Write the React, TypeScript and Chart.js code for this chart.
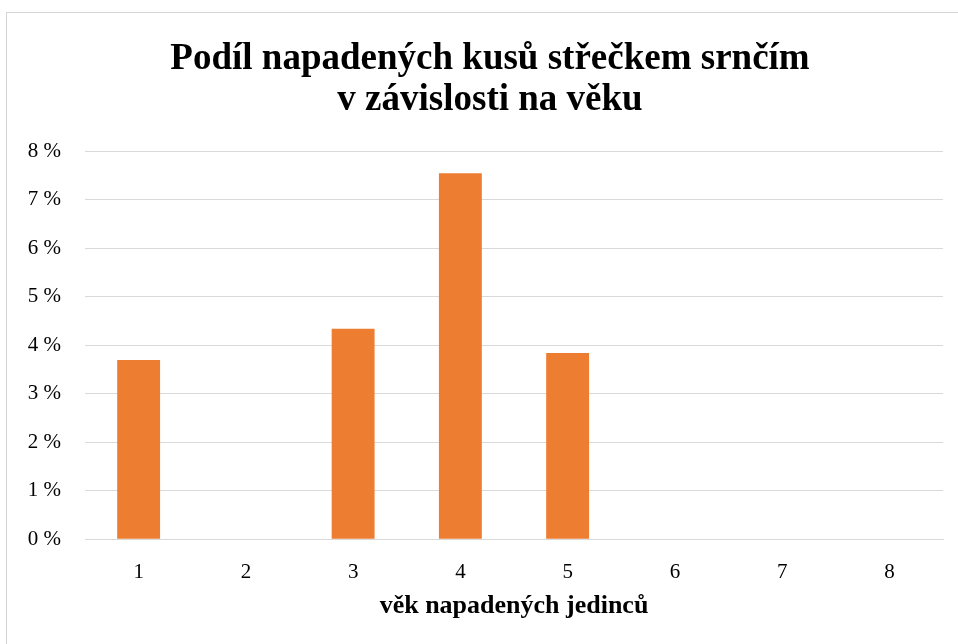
import React, { useEffect, useRef } from "react";
import { Chart, registerables } from "chart.js";

Chart.register(...registerables);

const categories = ["1", "2", "3", "4", "5", "6", "7", "8"];
const shareInfested = [3.7, 0, 4.34, 7.55, 3.84, 0, 0, 0];
const yMin = 0;
const yMax = 8;
const yStep = 1;
const titleLines = ["Podíl napadených kusů střečkem srnčím", "v závislosti na věku"];
const xAxisTitle = "věk napadených jedinců";

const FONT = "'Liberation Serif', 'Times New Roman', serif";

export default function App() {
  const ref = useRef<HTMLCanvasElement | null>(null);

  useEffect(() => {
    document.body.style.margin = "0";
    const canvas = ref.current;
    if (!canvas) return;
    const chart = new Chart(canvas, {
      type: "bar",
      data: {
        labels: categories,
        datasets: [
          {
            data: shareInfested,
            backgroundColor: "#ED7D31",
            borderWidth: 0,
            barPercentage: 0.4,
            categoryPercentage: 1,
            yAxisID: "y",
          },
        ],
      },
      options: {
        responsive: false,
        animation: false,
        devicePixelRatio: 1,
        layout: { padding: { left: 17, right: 5, top: 0, bottom: 0 } },
        plugins: {
          legend: { display: false },
          tooltip: { enabled: false },
          title: {
            display: true,
            text: titleLines,
            color: "#000",
            font: { family: FONT, size: 37, weight: "bold", lineHeight: 1.1 },
            padding: { top: 39, bottom: 31 },
          },
        },
        scales: {
          x: {
            grid: { display: false, drawTicks: false },
            border: { display: true, color: "#d9d9d9", width: 1 },
            ticks: {
              color: "#000",
              font: { family: FONT, size: 21 },
              padding: 21,
            },
            title: {
              display: true,
              text: xAxisTitle,
              color: "#000",
              font: { family: FONT, size: 26, weight: "bold", lineHeight: 1.2 },
              padding: { top: 0, bottom: 22 },
            },
            afterFit: (scale: any) => {
              scale.height = 644 - 539.3;
            },
          },
          y: {
            min: yMin,
            max: yMax,
            grid: { color: "#d9d9d9", lineWidth: 1, drawTicks: false },
            border: { display: false },
            ticks: {
              stepSize: yStep,
              color: "#000",
              font: { family: FONT, size: 21 },
              padding: 24,
              callback: (v: any) => `${v} %`,
            },
            afterFit: (scale: any) => {
              scale.width = 68;
            },
          },
          y2: {
            position: "right",
            grid: { display: false, drawTicks: false },
            border: { display: false },
            ticks: { display: false },
            afterFit: (scale: any) => {
              scale.width = 20;
            },
          },
        },
      },
    });
    return () => chart.destroy();
  }, []);

  return (
    <div
      style={{
        position: "fixed",
        left: 0,
        top: 0,
        width: 958,
        height: 644,
        overflow: "hidden",
        background: "#fff",
      }}
    >
      <div
        style={{
          position: "absolute",
          left: 6,
          top: 12,
          width: 1000,
          height: 700,
          border: "1px solid #d4d4d4",
          boxSizing: "border-box",
        }}
      />
      <canvas
        ref={ref}
        width={968}
        height={644}
        style={{ position: "absolute", left: 0, top: 0, width: 968, height: 644 }}
      />
    </div>
  );
}
